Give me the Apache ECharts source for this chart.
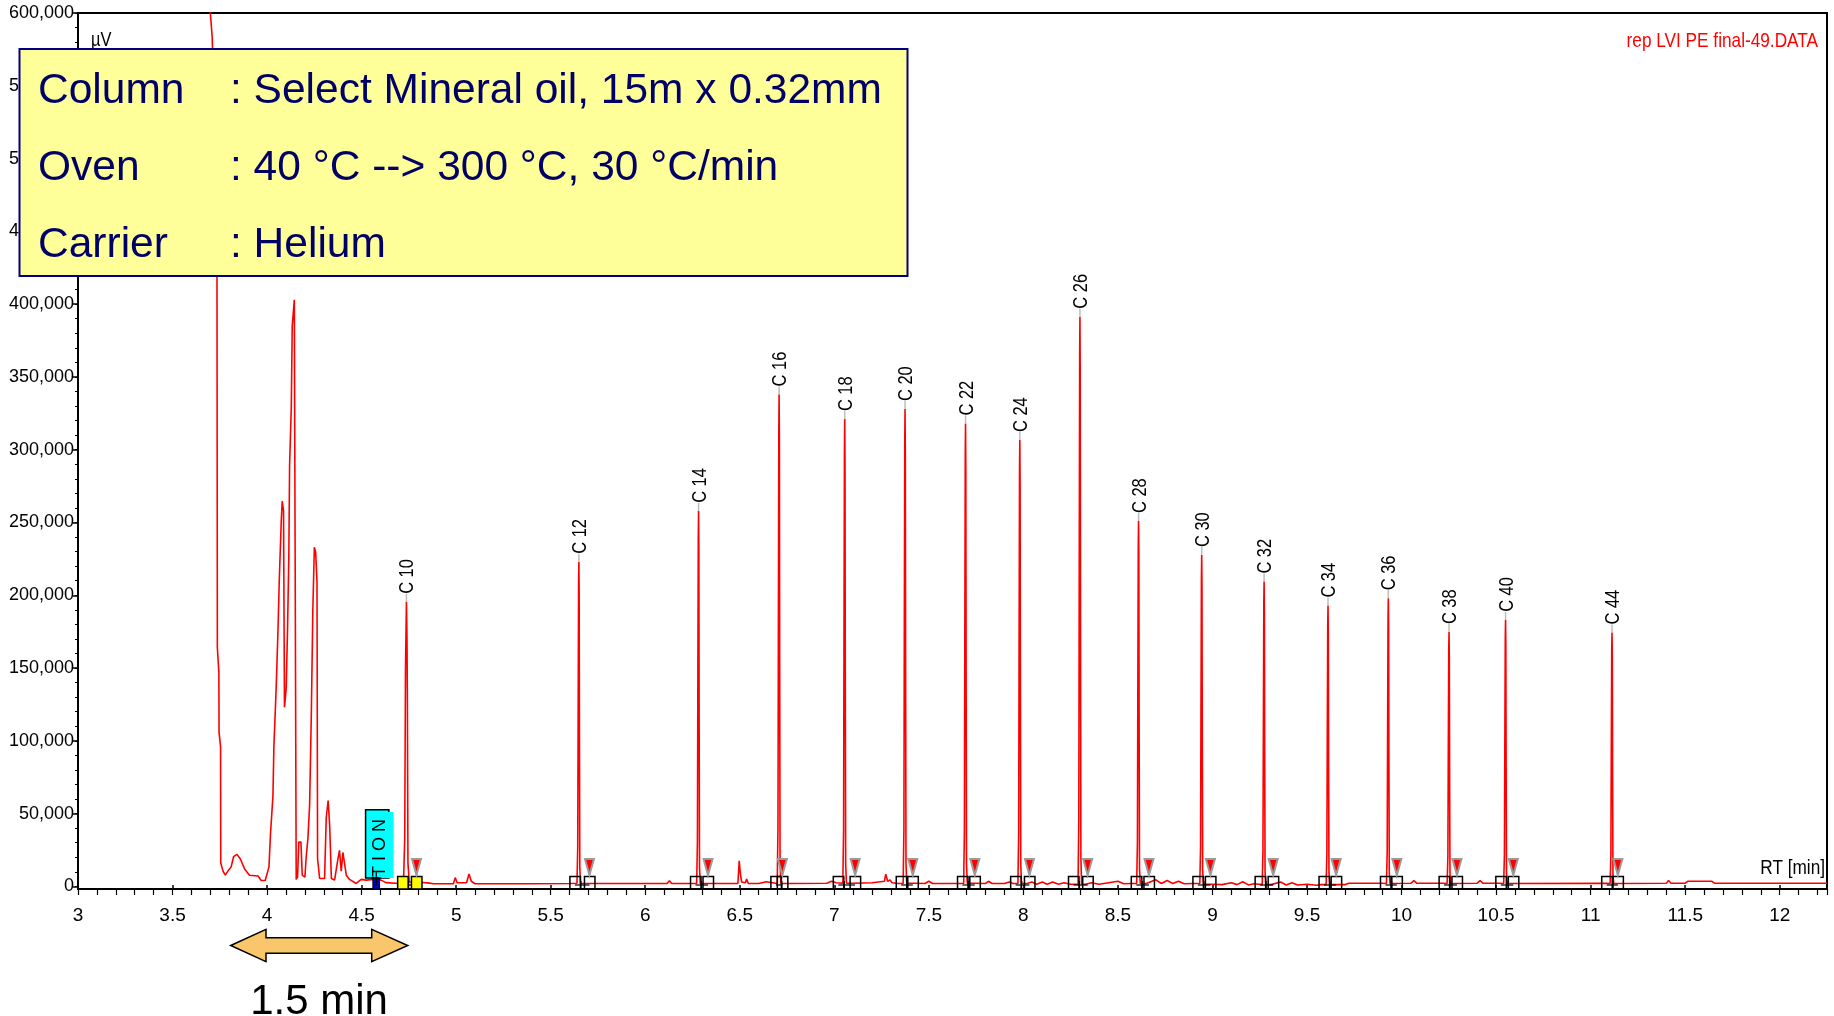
<!DOCTYPE html>
<html>
<head>
<meta charset="utf-8">
<script src="https://cdn.jsdelivr.net/npm/echarts@6/dist/echarts.min.js"></script>
<style>
  html, body { margin: 0; padding: 0; background: #ffffff; }
  #chart { width: 1834px; height: 1016px; }
</style>
</head>
<body>
<div id="chart"></div>
<script>
// Retention-time axis (min) and detector axis (µV) tick labels
const xTicks = [3, 3.5, 4, 4.5, 5, 5.5, 6, 6.5, 7, 7.5, 8, 8.5, 9, 9.5, 10, 10.5, 11, 11.5, 12];
const yTicks = [0, 50000, 100000, 150000, 200000, 250000, 300000, 350000, 400000, 450000, 500000, 550000, 600000];

// n-alkane peaks: name, apex retention time (min), apex height (µV)
const peakNames  = ['C 10', 'C 12', 'C 14', 'C 16', 'C 18', 'C 20', 'C 22', 'C 24', 'C 26',
                    'C 28', 'C 30', 'C 32', 'C 34', 'C 36', 'C 38', 'C 40', 'C 44'];
const peakRT     = [4.737, 5.649, 6.282, 6.708, 7.055, 7.374, 7.694, 7.981, 8.299,
                    8.609, 8.943, 9.273, 9.611, 9.930, 10.251, 10.550, 11.113];
const peakHeight = [195500, 223000, 258000, 338000, 321000, 328000, 318000, 306700, 391400,
                    251000, 227700, 209400, 192900, 198000, 174700, 183100, 174400];

// Integration window of each peak (start / end, min)
const integStart = [4.717, 5.628, 6.266, 6.691, 7.021, 7.354, 7.678, 7.959, 8.265,
                    8.597, 8.923, 9.252, 9.590, 9.915, 10.225, 10.525, 11.085];
const integEnd   = [4.790, 5.705, 6.332, 6.725, 7.110, 7.415, 7.743, 8.032, 8.340,
                    8.664, 8.989, 9.321, 9.654, 9.975, 10.293, 10.591, 11.144];

// Timed event marker (min)
const eventRT = [4.5775];

// FID trace: [retention time (min), signal (µV)]
const trace = [
  [3.697, 605000], [3.710, 583000], [3.735, 430000], [3.737, 164000], [3.745, 147000],
  [3.746, 106000], [3.754, 96000], [3.755, 16000], [3.767, 10500], [3.779, 7700],
  [3.793, 10500], [3.810, 13400], [3.823, 20500], [3.840, 22000], [3.858, 19000],
  [3.881, 12000], [3.907, 7700], [3.952, 7100], [3.969, 4000], [3.990, 4000],
  [4.010, 13400], [4.018, 36000], [4.031, 62000], [4.036, 96000], [4.048, 136000],
  [4.057, 173000], [4.065, 212500], [4.075, 251000], [4.080, 264600], [4.087, 258000],
  [4.092, 123000], [4.101, 136000], [4.108, 175500], [4.115, 226700], [4.119, 289000],
  [4.128, 329000], [4.133, 385000], [4.144, 403000], [4.149, 402000], [4.154, 4800],
  [4.161, 6300], [4.168, 30400], [4.179, 30400], [4.186, 7700], [4.200, 6300],
  [4.207, 20500], [4.216, 33000], [4.225, 56000], [4.234, 118600], [4.242, 190000],
  [4.250, 233000], [4.257, 229600], [4.264, 209700], [4.267, 19000], [4.278, 5400],
  [4.304, 5400], [4.313, 47500], [4.323, 59000], [4.331, 41800], [4.340, 5400],
  [4.357, 4300], [4.375, 19000], [4.383, 24800], [4.392, 10500], [4.401, 23300],
  [4.410, 22500], [4.419, 7700], [4.436, 4800], [4.471, 2000], [4.498, 4800],
  [4.524, 4300], [4.559, 4800], [4.603, 4300], [4.629, 2600], [4.700, 2000],
  // C10
  [4.722, 4800], [4.728, 33000], [4.732, 150000], [4.737, 195500], [4.740, 170000],
  [4.742, 127000], [4.745, 16000], [4.752, 3000],
  [4.800, 2800], [4.850, 2400], [4.880, 1800], [4.985, 1800], [4.995, 6000],
  [5.005, 2500], [5.055, 2500], [5.068, 8500], [5.080, 3500], [5.100, 1800],
  [5.400, 1800], [5.600, 2000],
  // C12
  [5.639, 2200], [5.643, 27000], [5.645, 110000], [5.6475, 207000], [5.649, 223000],
  [5.6505, 200000], [5.652, 100000], [5.654, 12000], [5.658, 2000],
  [5.700, 2000], [6.115, 2000], [6.128, 3800], [6.140, 2000],
  // C14
  [6.272, 2000], [6.276, 31000], [6.278, 129000], [6.2805, 240000], [6.282, 258000],
  [6.2835, 232000], [6.285, 116000], [6.287, 13000], [6.291, 2000],
  [6.330, 2000], [6.490, 2000], [6.497, 17500], [6.503, 9000], [6.510, 3000],
  [6.530, 2500], [6.536, 5000], [6.545, 2000], [6.600, 2000], [6.640, 3200], [6.650, 2000],
  // C16
  [6.698, 2000], [6.702, 40000], [6.704, 169000], [6.7065, 314000], [6.708, 338000],
  [6.7095, 304000], [6.711, 152000], [6.713, 17000], [6.717, 2000],
  [6.760, 2000], [6.960, 2200], [6.985, 3500], [7.010, 2500],
  // C18
  [7.045, 2200], [7.049, 38500], [7.051, 160000], [7.0535, 298500], [7.055, 321000],
  [7.0565, 289000], [7.058, 144000], [7.060, 16000], [7.064, 2200],
  [7.100, 2200], [7.200, 2500], [7.265, 3500], [7.272, 8400], [7.282, 3500],
  [7.295, 4500], [7.305, 2500], [7.340, 2000],
  // C20
  [7.364, 2000], [7.368, 39000], [7.370, 164000], [7.3725, 305000], [7.374, 328000],
  [7.3755, 295000], [7.377, 148000], [7.379, 16000], [7.383, 2200],
  [7.420, 2200], [7.480, 2000], [7.500, 3500], [7.520, 2000], [7.640, 2000],
  // C22
  [7.684, 2000], [7.688, 38000], [7.690, 159000], [7.6925, 296000], [7.694, 318000],
  [7.6955, 286000], [7.697, 143000], [7.699, 16000], [7.703, 2200],
  [7.740, 2200], [7.800, 2000], [7.815, 3500], [7.835, 2000], [7.900, 2000],
  [7.925, 3000], [7.945, 2000],
  // C24
  [7.971, 2000], [7.975, 37000], [7.977, 153000], [7.9795, 285000], [7.981, 306700],
  [7.9825, 276000], [7.984, 138000], [7.986, 15000], [7.990, 2000],
  [8.020, 2000], [8.045, 3000], [8.070, 1500], [8.100, 3000], [8.125, 1500],
  [8.155, 3000], [8.185, 1500], [8.215, 2500], [8.250, 1500],
  // C26
  [8.289, 1500], [8.293, 47000], [8.295, 196000], [8.2975, 364000], [8.299, 391400],
  [8.3005, 352000], [8.302, 176000], [8.304, 19500], [8.308, 1500],
  [8.330, 1500], [8.360, 2500], [8.400, 1500], [8.450, 2500], [8.500, 3500],
  [8.530, 1800], [8.570, 2000],
  // C28
  [8.599, 2000], [8.603, 30000], [8.605, 125000], [8.6075, 233000], [8.609, 251000],
  [8.6105, 226000], [8.612, 113000], [8.614, 12500], [8.618, 2000],
  [8.650, 2000], [8.700, 4500], [8.730, 2000], [8.760, 4000], [8.790, 2000],
  [8.820, 3500], [8.850, 1800], [8.900, 2000],
  // C30
  [8.933, 2000], [8.937, 27000], [8.939, 114000], [8.9415, 212000], [8.943, 227700],
  [8.9445, 205000], [8.946, 102000], [8.948, 11400], [8.952, 1500],
  [8.990, 1500], [9.050, 1200], [9.100, 2500], [9.130, 1200], [9.160, 3200],
  [9.190, 1000], [9.220, 1800],
  // C32
  [9.263, 1200], [9.267, 25000], [9.269, 105000], [9.2715, 195000], [9.273, 209400],
  [9.2745, 188000], [9.276, 94000], [9.278, 10500], [9.282, 1200],
  [9.310, 1200], [9.360, 3000], [9.390, 1000], [9.420, 2500], [9.450, 1000],
  [9.500, 1500], [9.550, 800], [9.575, 1200],
  // C34
  [9.601, 1200], [9.605, 23000], [9.607, 96000], [9.6095, 179000], [9.611, 192900],
  [9.6125, 174000], [9.614, 87000], [9.616, 9600], [9.620, 1200],
  [9.660, 1200], [9.700, 1200], [9.720, 2200], [9.890, 2200],
  // C36
  [9.920, 2000], [9.924, 24000], [9.926, 99000], [9.9285, 184000], [9.930, 198000],
  [9.9315, 178000], [9.933, 89000], [9.935, 9900], [9.939, 2000],
  [10.050, 2200], [10.065, 4000], [10.080, 2200], [10.215, 2200],
  // C38
  [10.241, 2000], [10.245, 21000], [10.247, 87000], [10.2495, 162000], [10.251, 174700],
  [10.2525, 157000], [10.254, 79000], [10.256, 8700], [10.260, 2000],
  [10.400, 2200], [10.415, 4000], [10.430, 2200], [10.515, 2200],
  // C40
  [10.540, 2000], [10.544, 22000], [10.546, 92000], [10.5485, 170000], [10.550, 183100],
  [10.5515, 165000], [10.553, 82000], [10.555, 9200], [10.559, 2000],
  [11.080, 2200],
  // C44
  [11.103, 2000], [11.107, 21000], [11.109, 87000], [11.1115, 162000], [11.113, 174400],
  [11.1145, 157000], [11.116, 78000], [11.118, 8700], [11.122, 2000],
  [11.400, 2200], [11.412, 4000], [11.425, 2200], [11.500, 2200], [11.515, 3500],
  [11.640, 3500], [11.655, 2200], [12.250, 2200]
];

const Y_MIN = -1800;
const Y_MAX = 600000;
const SANS = '"Liberation Sans", Arial, sans-serif';
const NARROW_X = 0.82;   // horizontal squeeze giving a narrow face

const yMinorTicks = [];
for (let v = 0; v <= Y_MAX; v += 10000) yMinorTicks.push(v);

const chart = echarts.init(document.getElementById('chart'), null, { renderer: 'canvas' });

const option = {
  animation: false,
  backgroundColor: '#ffffff',
  grid: {
    left: 78, right: 7, top: 13, bottom: 127,
    show: true, borderColor: '#000000', borderWidth: 2,
    backgroundColor: 'transparent',
    containLabel: false, outerBoundsMode: 'none'
  },
  xAxis: [
    {
      type: 'value', min: 3, max: 12.25, interval: 0.5, position: 'bottom',
      axisLine: { show: true, onZero: false, lineStyle: { color: '#000000', width: 2 } },
      axisTick: { show: true, inside: true, length: 4, customValues: xTicks,
                  lineStyle: { color: '#000000', width: 1.5 } },
      axisLabel: { show: true, customValues: xTicks, color: '#000000',
                   fontFamily: SANS, fontSize: 19, margin: 17 },
      splitLine: { show: false }
    },
    {
      type: 'value', min: 3, max: 12.25, interval: 0.1, position: 'bottom',
      axisLine: { show: false, onZero: false },
      axisTick: { show: true, inside: false, length: 6,
                  lineStyle: { color: '#000000', width: 1.2 } },
      axisLabel: { show: false },
      splitLine: { show: false }
    }
  ],
  yAxis: [
    {
      type: 'value', min: Y_MIN, max: Y_MAX,
      axisLine: { show: true, onZero: false, lineStyle: { color: '#000000', width: 2 } },
      axisTick: { show: true, inside: false, length: 5, customValues: yTicks,
                  lineStyle: { color: '#000000', width: 1.5 } },
      axisLabel: { show: true, customValues: yTicks, color: '#000000',
                   fontFamily: SANS, fontSize: 18, margin: 4,
                   formatter: v => Number(v).toLocaleString('en-US') },
      splitLine: { show: false }
    },
    {
      type: 'value', min: Y_MIN, max: Y_MAX, position: 'left',
      axisLine: { show: false, onZero: false },
      axisTick: { show: true, inside: false, length: 3, customValues: yMinorTicks,
                  lineStyle: { color: '#000000', width: 1 } },
      axisLabel: { show: false },
      splitLine: { show: false }
    }
  ],
  series: [
    {
      name: 'FID',
      type: 'line',
      xAxisIndex: 0, yAxisIndex: 0,
      data: trace,
      showSymbol: false, symbol: 'none',
      lineStyle: { color: '#ff0000', width: 1.6 },
      clip: true, silent: true, z: 3
    },
    {
      // integration start/end boxes, baseline segment and end flag
      type: 'custom',
      xAxisIndex: 0, yAxisIndex: 0,
      data: integStart.map((s, i) => [s, integEnd[i], 0]),
      encode: { x: [0, 1], y: 2 },
      clip: false, silent: true, z: 4,
      renderItem: (params, api) => {
        const s = api.coord([api.value(0), Y_MIN]);
        const e = api.coord([api.value(1), Y_MIN]);
        const base = s[1];
        const fill = params.dataIndex === 0 ? '#ffff00' : 'none';
        return {
          type: 'group',
          children: [
            { type: 'line', shape: { x1: s[0], y1: base - 4, x2: e[0], y2: base - 4 },
              style: { stroke: '#000000', lineWidth: 1.2 } },
            { type: 'line', shape: { x1: s[0] + 6, y1: base - 8, x2: s[0] + 6, y2: base },
              style: { stroke: '#000000', lineWidth: 1.2 } },
            { type: 'rect', shape: { x: s[0] - 5, y: base - 12.5, width: 10.5, height: 12.5 },
              style: { fill: fill, stroke: '#000000', lineWidth: 1.5 } },
            { type: 'rect', shape: { x: e[0] - 5, y: base - 12.5, width: 10.5, height: 12.5 },
              style: { fill: fill, stroke: '#000000', lineWidth: 1.5 } },
            { type: 'polygon',
              shape: { points: [[e[0] - 4.5, base - 30], [e[0] + 4.5, base - 30], [e[0], base - 14]] },
              style: { fill: '#ff0000', stroke: '#9a9a9a', lineWidth: 2 } }
          ]
        };
      }
    },
    {
      // timed event flag
      type: 'custom',
      xAxisIndex: 0, yAxisIndex: 0,
      data: eventRT.map(t => [t, 0]),
      clip: false, silent: true, z: 5,
      renderItem: (params, api) => {
        const p = api.coord([api.value(0), Y_MIN]);
        const x = p[0], base = p[1];
        return {
          type: 'group',
          children: [
            { type: 'rect', shape: { x: x - 10.7, y: base - 79.3, width: 23.3, height: 68.3 },
              style: { fill: '#00ffff', stroke: '#000000', lineWidth: 1.5 } },
            { type: 'rect', shape: { x: x + 2, y: base - 77, width: 15.3, height: 66 },
              style: { fill: '#00ffff' } },
            { type: 'text', x: x + 3.3, y: base - 12, rotation: Math.PI / 2,
              style: { text: 'T I O N', fill: '#000000', fontSize: 18, fontFamily: SANS,
                       align: 'left', verticalAlign: 'middle' } },
            { type: 'rect', shape: { x: x - 3.4, y: base - 11, width: 6.7, height: 11 },
              style: { fill: '#0000cc', stroke: '#000000', lineWidth: 1 } },
            { type: 'line', shape: { x1: x - 5, y1: base - 11, x2: x + 5, y2: base - 11 },
              style: { stroke: '#000000', lineWidth: 1.2 } },
            { type: 'line', shape: { x1: x, y1: base - 17, x2: x, y2: base - 3 },
              style: { stroke: '#000000', lineWidth: 1.2 } }
          ]
        };
      }
    },
    {
      // peak name labels above each apex
      type: 'custom',
      xAxisIndex: 0, yAxisIndex: 0,
      data: peakRT.map((t, i) => [t, peakHeight[i]]),
      clip: false, silent: true, z: 6,
      renderItem: (params, api) => {
        const p = api.coord([api.value(0), api.value(1)]);
        return {
          type: 'group',
          children: [
            { type: 'line', shape: { x1: p[0], y1: p[1], x2: p[0], y2: p[1] - 8 },
              style: { stroke: '#bdbdbd', lineWidth: 1.5 } },
            { type: 'text', x: p[0] + 1.5, y: p[1] - 8, rotation: Math.PI / 2,
              scaleX: NARROW_X, scaleY: 1,
              style: { text: peakNames[params.dataIndex], fill: '#000000',
                       fontSize: 20, fontFamily: SANS,
                       align: 'left', verticalAlign: 'middle' } }
          ]
        };
      }
    }
  ],
  graphic: [
    { type: 'text', z: 50, x: 91, y: 40, scaleX: NARROW_X,
      style: { text: 'µV', fill: '#000000', font: '20px ' + SANS,
               align: 'left', verticalAlign: 'middle' } },
    { type: 'text', z: 50, x: 1818, y: 41.5, scaleX: NARROW_X,
      style: { text: 'rep LVI PE final-49.DATA', fill: '#ff0000', font: '21px ' + SANS,
               align: 'right', verticalAlign: 'middle' } },
    { type: 'text', z: 50, x: 1825, y: 868.5, scaleX: NARROW_X,
      style: { text: 'RT [min]', fill: '#000000', font: '21px ' + SANS,
               align: 'right', verticalAlign: 'middle' } },
    // method conditions panel
    { type: 'rect', z: 100,
      shape: { x: 19.5, y: 49, width: 888, height: 227 },
      style: { fill: '#ffff99', stroke: '#000080', lineWidth: 2 } },
    { type: 'text', z: 101, x: 38, y: 91.5,
      style: { text: 'Column', fill: '#000066', font: '42.5px ' + SANS, align: 'left', verticalAlign: 'middle' } },
    { type: 'text', z: 101, x: 230, y: 91.5,
      style: { text: ': Select Mineral oil, 15m x 0.32mm', fill: '#000066', font: '42.5px ' + SANS, align: 'left', verticalAlign: 'middle' } },
    { type: 'text', z: 101, x: 38, y: 168,
      style: { text: 'Oven', fill: '#000066', font: '42.5px ' + SANS, align: 'left', verticalAlign: 'middle' } },
    { type: 'text', z: 101, x: 230, y: 168,
      style: { text: ': 40 °C --> 300 °C, 30 °C/min', fill: '#000066', font: '42.5px ' + SANS, align: 'left', verticalAlign: 'middle' } },
    { type: 'text', z: 101, x: 38, y: 244.8,
      style: { text: 'Carrier', fill: '#000066', font: '42.5px ' + SANS, align: 'left', verticalAlign: 'middle' } },
    { type: 'text', z: 101, x: 230, y: 244.8,
      style: { text: ': Helium', fill: '#000066', font: '42.5px ' + SANS, align: 'left', verticalAlign: 'middle' } },
    // double-headed span arrow and its caption
    { type: 'polygon', z: 100,
      shape: { points: [
        [230.7, 945.5], [266, 929.3], [266, 937.7], [371.7, 937.7], [371.7, 929.3],
        [407.7, 945.5], [371.7, 961.7], [371.7, 953.3], [266, 953.3], [266, 961.7]
      ] },
      style: { fill: '#f9c66b', stroke: '#000000', lineWidth: 1.5 } },
    { type: 'text', z: 100, x: 319, y: 1002.5,
      style: { text: '1.5 min', fill: '#000000', font: '42px ' + SANS,
               align: 'center', verticalAlign: 'middle' } }
  ]
};

chart.setOption(option);
</script>
</body>
</html>
